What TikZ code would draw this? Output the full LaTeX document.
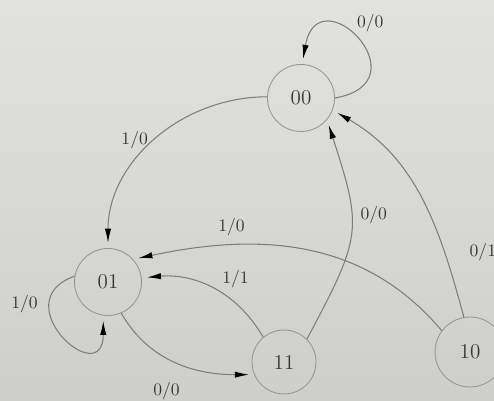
\documentclass[tikz,border=0pt]{standalone}
\usetikzlibrary{arrows.meta}
\definecolor{PaperTop}{RGB}{226,226,223}
\definecolor{PaperBot}{RGB}{206,206,203}
\definecolor{LineClr}{RGB}{125,125,122}
\definecolor{RingClr}{RGB}{150,150,147}
\definecolor{InkClr}{RGB}{55,55,52}

\begin{document}
\begin{tikzpicture}[x=0.02cm,y=0.02cm,
  stt/.style={circle,draw=RingClr,line width=0.5pt,minimum size=1.34cm,inner sep=0pt,text=InkClr,font=\large},
  trans/.style={draw=LineClr,line width=0.6pt,shorten >=3pt,
    -{Latex[length=8pt,width=3.6pt,color=black]}},
  lbl/.style={text=InkClr,inner sep=2pt}]
\useasboundingbox (0,0) rectangle (494,401);
\shade[top color=PaperTop,bottom color=PaperBot] (0,0) rectangle (494,401);

% states
\node[stt] (s00) at (301,303) {00};
\node[stt] (s01) at (108,119) {01};
\node[stt,minimum size=1.28cm] (s11) at (284,39) {11};
\node[stt,minimum size=1.4cm] (s10) at (470,49) {10};

% transitions
\draw[trans] (s00.east) to[out=10,in=80,looseness=5] node[lbl,pos=.55,above right]{0/0} (s00.88);
\draw[trans] (s00.178) to[out=180,in=90] node[lbl,pos=.5,left=2pt]{1/0} (s01.north);
\draw[trans] (s10.100) to[out=105,in=-30] node[lbl,pos=.25,right=12pt]{0/1} (s00.-21);
\draw[trans] (s11.45) to[out=62,in=-72,looseness=1.35] node[lbl,pos=.6,right=3pt]{0/0} (s00.-40);
\draw[trans] (s10.143) to[out=130,in=12] node[lbl,pos=.72,above=3pt]{1/0} (s01.42);
\draw[trans] (s11.130) to[out=120,in=5] node[lbl,pos=.45,above right]{1/1} (s01.7);
\draw[trans] (s01.-67) to[out=-60,in=180] node[lbl,pos=.42,below=12pt]{0/0} (s11.-157);
\draw[trans] (s01.170) to[out=200,in=-90,looseness=4] node[lbl,pos=.25,left=4pt]{1/0} (s01.-98);
\end{tikzpicture}
\end{document}
